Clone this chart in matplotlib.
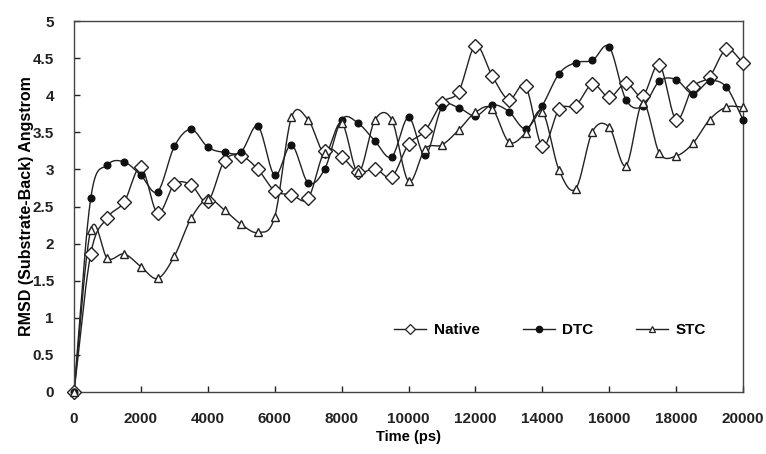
import numpy as np
import matplotlib
matplotlib.use("Agg")
import matplotlib.pyplot as plt
from matplotlib.lines import Line2D

time_ps = list(range(0, 20001, 500))

native = [0, 1.86, 2.35, 2.56, 3.03, 2.41, 2.80, 2.79, 2.57, 3.12, 3.18, 3.00, 2.71,
          2.66, 2.61, 3.25, 3.17, 2.96, 3.01, 2.90, 3.34, 3.52, 3.90, 4.05, 4.67, 4.26,
          3.94, 4.12, 3.31, 3.81, 3.86, 4.15, 3.97, 4.16, 3.99, 4.41, 3.67, 4.11, 4.25,
          4.62, 4.44]
dtc = [0, 2.61, 3.06, 3.10, 2.92, 2.70, 3.31, 3.54, 3.30, 3.23, 3.24, 3.58, 2.92,
       3.33, 2.82, 3.01, 3.67, 3.62, 3.38, 3.17, 3.70, 3.19, 3.84, 3.83, 3.72, 3.87,
       3.78, 3.55, 3.86, 4.29, 4.44, 4.47, 4.65, 3.94, 3.85, 4.19, 4.21, 4.02, 4.19,
       4.11, 3.67]
stc = [0, 2.18, 1.80, 1.86, 1.69, 1.53, 1.83, 2.34, 2.60, 2.45, 2.26, 2.15, 2.36,
       3.70, 3.67, 3.22, 3.63, 2.96, 3.67, 3.67, 2.84, 3.28, 3.33, 3.53, 3.77, 3.82,
       3.37, 3.49, 3.78, 2.99, 2.74, 3.51, 3.57, 3.05, 3.90, 3.22, 3.18, 3.35, 3.67,
       3.84, 3.84]

x_ticks = list(range(0, 20001, 2000))
y_ticks = [0, 0.5, 1, 1.5, 2, 2.5, 3, 3.5, 4, 4.5, 5]


def catmull_rom(x, y, n=20):
    x = np.asarray(x, float)
    y = np.asarray(y, float)
    px = np.concatenate([[2 * x[0] - x[1]], x, [2 * x[-1] - x[-2]]])
    py = np.concatenate([[2 * y[0] - y[1]], y, [2 * y[-1] - y[-2]]])
    xs, ys = [], []
    t = np.linspace(0, 1, n, endpoint=False)
    for i in range(1, len(px) - 2):
        for p, out in ((px, xs), (py, ys)):
            p0, p1, p2, p3 = p[i - 1], p[i], p[i + 1], p[i + 2]
            out.append(0.5 * ((2 * p1) + (-p0 + p2) * t
                              + (2 * p0 - 5 * p1 + 4 * p2 - p3) * t ** 2
                              + (-p0 + 3 * p1 - 3 * p2 + p3) * t ** 3))
    xs.append([x[-1]])
    ys.append([y[-1]])
    return np.concatenate(xs), np.concatenate(ys)


plt.rcParams['font.family'] = ['Liberation Sans', 'DejaVu Sans']
plt.rcParams['font.weight'] = 'bold'

fig = plt.figure(figsize=(7.66, 4.54), dpi=100)
ax = fig.add_axes([0.0966, 0.1366, 0.8734, 0.8171])

edge = '#222222'
series = [
    ("Native", native, dict(marker='D', markersize=7.5, markerfacecolor='white',
                            markeredgecolor=edge, markeredgewidth=1.0),
     dict(marker='D', markersize=5.5, markerfacecolor='white',
          markeredgecolor=edge, markeredgewidth=0.9)),
    ("DTC", dtc, dict(marker='o', markersize=4.8, markerfacecolor='#111111',
                      markeredgecolor='#111111'),
     dict(marker='o', markersize=4.5, markerfacecolor='#111111',
          markeredgecolor='#111111')),
    ("STC", stc, dict(marker='^', markersize=6.3, markerfacecolor='white',
                      markeredgecolor=edge, markeredgewidth=1.0),
     dict(marker='^', markersize=5, markerfacecolor='white',
          markeredgecolor=edge, markeredgewidth=0.9)),
]

handles = []
for name, vals, mk, lmk in series:
    sx, sy = catmull_rom(time_ps, vals)
    ax.plot(sx, sy, color=edge, lw=1.0, zorder=2, clip_on=False)
    ax.plot(time_ps, vals, linestyle='none', zorder=3, clip_on=False, **mk)
    handles.append(Line2D([], [], color=edge, lw=1.0, label=name, **lmk))

ax.set_xlim(0, 20000)
ax.set_ylim(0, 5)
ax.set_xticks(x_ticks)
ax.set_yticks(y_ticks)
ax.set_yticklabels([f"{v:g}" for v in y_ticks])
ax.tick_params(direction='in', length=4, width=1, labelsize=11, colors='#222222',
               pad=14.5)
for lab in ax.get_xticklabels() + ax.get_yticklabels():
    lab.set_fontweight('bold')
for s in ax.spines.values():
    s.set_color('#444444')
    s.set_linewidth(1.0)

ax.set_xlabel("Time (ps)", fontsize=10.5, fontweight='bold')
ax.set_ylabel("RMSD (Substrate-Back) Angstrom", fontsize=11.5, fontweight='bold')
ax.xaxis.set_label_coords(0.5, -0.102)
ax.yaxis.set_label_coords(-0.06, 0.5)

ax.legend(handles=handles, ncol=3, frameon=False, loc='center',
          bbox_to_anchor=(0.712, 0.167), handlelength=2.1,
          columnspacing=2.8, handletextpad=0.5,
          prop={'weight': 'bold', 'size': 11})

fig.savefig("out.png", dpi=100)
